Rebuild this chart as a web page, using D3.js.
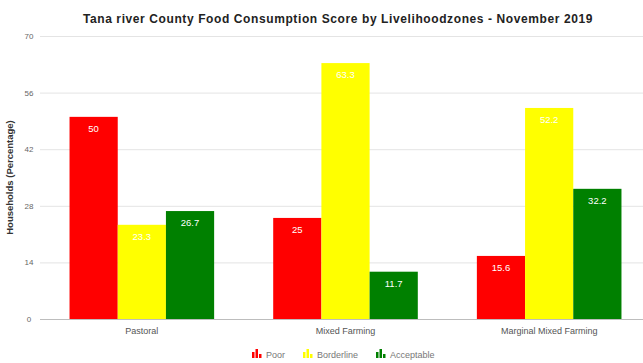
<!DOCTYPE html>
<html>
<head>
<meta charset="utf-8">
<script src="https://cdn.jsdelivr.net/npm/d3@7"></script>
<style>
  html, body { margin: 0; padding: 0; background: #fff; }
  svg { display: block; font-family: "Liberation Sans", Arial, sans-serif; }
</style>
</head>
<body>
<svg id="chart" width="643" height="363"></svg>
<script>
// Livelihood zones and food consumption score groups
const zones = ["Pastoral", "Mixed Farming", "Marginal Mixed Farming"];
const groups = ["Poor", "Borderline", "Acceptable"];
const groupColors = ["#ff0000", "#ffff00", "#008000"];

// Share of households (%) per zone, one array per group
const poor = [50, 25, 15.6];
const borderline = [23.3, 63.3, 52.2];
const acceptable = [26.7, 11.7, 32.2];

const yTicks = [0, 14, 28, 42, 56, 70];

const seriesValues = [poor, borderline, acceptable];

const svg = d3.select("#chart");
const margin = { left: 40, right: 651, top: 36, bottom: 319 };

const x0 = d3.scaleBand().domain(zones).range([margin.left, margin.right]).paddingInner(0.29).paddingOuter(0.145);
const x1 = d3.scaleBand().domain(groups).range([0, x0.bandwidth()]).padding(0);
const y = d3.scaleLinear().domain([0, 70]).range([margin.bottom, margin.top]);

// Title
svg.append("text")
  .attr("x", 338).attr("y", 23)
  .attr("text-anchor", "middle")
  .attr("font-size", 12).attr("letter-spacing", 0.6).attr("font-weight", "bold").attr("fill", "#222")
  .text("Tana river County Food Consumption Score by Livelihoodzones - November 2019");

// Gridlines and y tick labels
const yAxis = d3.axisLeft(y).tickValues(yTicks).tickSize(-(643 - margin.left)).tickPadding(8);
const gy = svg.append("g").attr("transform", `translate(${margin.left},0)`).call(yAxis);
gy.select(".domain").remove();
gy.selectAll(".tick line").attr("stroke", "#e4e4e4").attr("stroke-width", 1);
gy.selectAll(".tick text").attr("fill", "#666").attr("font-size", 8).attr("text-anchor", "middle").attr("dx", -3);
gy.selectAll(".tick").filter(d => d === 0).select("line").attr("stroke", "#bdbdbd");

// Y axis title
svg.append("text")
  .attr("transform", `translate(13,${(margin.top + margin.bottom) / 2}) rotate(-90)`)
  .attr("text-anchor", "middle")
  .attr("font-size", 9.5).attr("font-weight", "bold").attr("fill", "#333")
  .text("Households (Percentage)");

// Bars
const rows = zones.map((z, i) => ({ zone: z, vals: groups.map((g, j) => ({ group: g, idx: j, value: seriesValues[j][i] })) }));

const zoneG = svg.selectAll(".zone").data(rows).enter().append("g")
  .attr("transform", d => `translate(${x0(d.zone)},0)`);

zoneG.selectAll("rect").data(d => d.vals).enter().append("rect")
  .attr("x", d => x1(d.group))
  .attr("y", d => y(d.value))
  .attr("width", x1.bandwidth())
  .attr("height", d => y(0) - y(d.value))
  .attr("fill", d => groupColors[d.idx]);

zoneG.selectAll("text.val").data(d => d.vals).enter().append("text")
  .attr("class", "val")
  .attr("x", d => x1(d.group) + x1.bandwidth() / 2)
  .attr("y", d => y(d.value) + 15)
  .attr("text-anchor", "middle")
  .attr("font-size", 9.5).attr("fill", "#fff")
  .text(d => d.value);

// X category labels
const xAxis = d3.axisBottom(x0).tickSize(0).tickPadding(9);
const gx = svg.append("g").attr("transform", `translate(0,${margin.bottom})`).call(xAxis);
gx.select(".domain").remove();
gx.selectAll(".tick text").attr("fill", "#555").attr("font-size", 9).attr("font-family", "Liberation Sans, Arial, sans-serif");

// Legend
const legendX = [252, 303, 376];
const lg = svg.selectAll(".legend").data(groups).enter().append("g")
  .attr("transform", (d, i) => `translate(${legendX[i]},350)`);
lg.each(function (d, i) {
  const g = d3.select(this);
  const c = groupColors[i];
  g.append("rect").attr("x", 0).attr("y", 2).attr("width", 2.5).attr("height", 6).attr("fill", c);
  g.append("rect").attr("x", 3.5).attr("y", -1).attr("width", 2.5).attr("height", 9).attr("fill", c);
  g.append("rect").attr("x", 7).attr("y", 4).attr("width", 2.5).attr("height", 4).attr("fill", c);
  g.append("text").attr("x", 14).attr("y", 7.5).attr("font-size", 9).attr("fill", "#777").text(d);
});
</script>
</body>
</html>
